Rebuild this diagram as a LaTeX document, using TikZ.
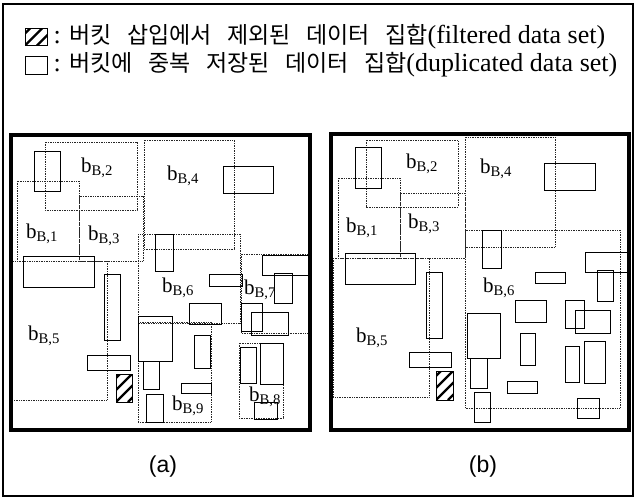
\documentclass[tikz,border=0pt]{standalone}
\usepackage{fontspec}
\setmainfont{Liberation Serif}
\newfontfamily\kr{Noto Sans CJK KR}[WordSpace=3]
\newfontfamily\capfont{Liberation Sans}
\usetikzlibrary{positioning}
\tikzset{
    %Define style for bucket regions
    bucket/.style={
           draw=black!85,
           line width=0.75pt,
           dash pattern=on 0.8pt off 0.9pt},
    %Define style for stored data sets
    entry/.style={
           draw=black,
           line width=1pt},
    %Define style for filtered data sets
    filtered/.style={
           draw=black,
           line width=1pt,
           path picture={
             \foreach \k in {-2,...,3}
               \draw[line width=2.4pt] ([xshift=\k*12pt]path picture bounding box.south west) -- ++(40pt,40pt);
           }},
    panel/.style={
           draw=black,
           line width=3.5pt},
    blabel/.style={
           font=\fontsize{21}{21}\selectfont,
           inner sep=0pt},
    legbox/.style={
           minimum width=22pt,
           inner sep=0pt},
    legtext/.style={
           font=\fontsize{26}{28}\selectfont,
           inner sep=0pt,
           anchor=west},
    caption/.style={
           font=\capfont\fontsize{23}{23}\selectfont}
}
\newcommand{\bk}[1]{b\textsubscript{B,#1}}

\begin{document}
\begin{tikzpicture}[x=1pt,y=-1pt]
\useasboundingbox (0,0) rectangle (636,499);
\draw[line width=1.5pt] (3,4) rectangle (633,496);
 %legend
\node[legbox, filtered, minimum height=17pt] (lf) at (36,37) {};
\node[legtext, right=6pt of lf] (tf) {: {\kr\fontsize{23}{26}\selectfont 버킷 삽입에서 제외된 데이터 집합}(filtered data set)};
\node[legbox, entry, minimum height=18pt] (ld) at (36,65) {};
\node[legtext, right=6pt of ld] (td) {: {\kr\fontsize{23}{26}\selectfont 버킷에 중복 저장된 데이터 집합}(duplicated data set)};
 %panel (a)
\foreach \xa/\ya/\xb/\yb in {45/142/137/210, 144/140/234/249, 17/181/79/261, 79/196/143/261,
    12/261/107/400, 138/234/240/323, 241/254/310/333, 138/322/211/422, 239/343/283/418}
  \draw[bucket] (\xa,\ya) rectangle (\xb,\yb);
\foreach \xa/\ya/\xb/\yb in {34/151/60/191, 223/166/273/193, 23/256/94/287, 155/234/173/271,
    209/274/242/286, 262/255/308/275, 274/273/292/303, 104/274/120/340, 189/303/221/324,
    241/303/262/331, 251/312/288/335, 87/355/130/370, 138/316/172/361, 143/361/159/389,
    146/394/163/422, 194/335/210/368, 181/383/211/393, 240/347/256/383, 260/343/283/384,
    254/402/277/419}
  \draw[entry] (\xa,\ya) rectangle (\xb,\yb);
\draw[filtered] (116,374) rectangle (132,402);
\draw[panel] (11,135) rectangle (310,430);
\foreach \i/\x/\y in {1/42/234, 2/97/168, 3/104/236, 4/183/176, 5/44/336,
    6/178/288, 7/260/290, 8/265/397, 9/188/406}
  \node[blabel] (a\i) at (\x,\y) {\bk{\i}};
 %panel (b)
\foreach \xa/\ya/\xb/\yb in {366/140/458/207, 465/137/555/247, 338/178/400/258,
    400/193/465/258, 333/258/429/397, 465/230/620/408}
  \draw[bucket] (\xa,\ya) rectangle (\xb,\yb);
\foreach \xa/\ya/\xb/\yb in {355/147/381/188, 544/163/595/190, 345/253/415/284,
    482/230/501/268, 535/272/565/283, 585/252/629/272, 597/270/613/301, 426/272/442/338,
    409/352/451/367, 515/300/546/322, 467/313/500/358, 470/358/487/388, 474/392/490/422,
    520/333/535/365, 507/381/537/393, 565/300/584/328, 575/310/610/333, 565/346/579/382,
    584/341/605/383, 577/398/599/418}
  \draw[entry] (\xa,\ya) rectangle (\xb,\yb);
\draw[filtered] (436,371) rectangle (453,400);
\draw[panel] (331,134) rectangle (629,430);
\foreach \i/\x/\y in {1/362/228, 2/422/164, 3/424/224, 4/496/169, 5/372/338, 6/499/288}
  \node[blabel] (b\i) at (\x,\y) {\bk{\i}};
 %captions
\node[caption] (capa) at (163,467) {(a)};
\node[caption] (capb) at (483,467) {(b)};
\end{tikzpicture}
\end{document}
